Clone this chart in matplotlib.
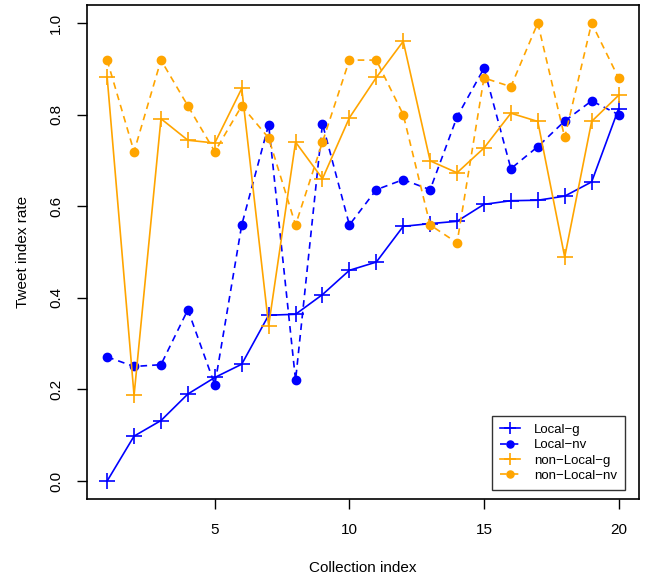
import matplotlib.pyplot as plt
import numpy as np

plt.rcParams['font.family'] = ['Liberation Sans', 'DejaVu Sans']

collection = np.arange(1, 21)

local_g = [0.0, 0.098, 0.132, 0.19, 0.226, 0.255, 0.362, 0.364, 0.407, 0.46,
           0.478, 0.556, 0.562, 0.567, 0.604, 0.612, 0.613, 0.622, 0.653, 0.8125]
local_nv = [0.271, 0.25, 0.254, 0.374, 0.21, 0.559, 0.778, 0.22, 0.78, 0.559,
            0.636, 0.658, 0.636, 0.795, 0.901, 0.682, 0.73, 0.786, 0.83, 0.8]
nonlocal_g = [0.882, 0.187, 0.791, 0.744, 0.738, 0.857, 0.339, 0.74, 0.66, 0.793,
              0.881, 0.96, 0.699, 0.673, 0.727, 0.803, 0.785, 0.489, 0.785, 0.842]
nonlocal_nv = [0.919, 0.719, 0.919, 0.819, 0.719, 0.819, 0.749, 0.559, 0.74, 0.919,
               0.919, 0.8, 0.559, 0.52, 0.88, 0.861, 1.0, 0.75, 1.0, 0.88]

blue = '#0000FF'
orange = '#FFA500'

fig = plt.figure(figsize=(6.45, 5.84), dpi=100)
ax = fig.add_axes([0.1344, 0.145, 0.8563, 0.847])

# series
ax.plot(collection, local_g, color=blue, ls='-', lw=1.2, marker='+', ms=11, mew=1.2, label='Local\u2212g')
ax.plot(collection, local_nv, color=blue, ls=(0, (4, 3)), lw=1.2, marker='o', ms=6, label='Local\u2212nv')
ax.plot(collection, nonlocal_g, color=orange, ls='-', lw=1.2, marker='+', ms=11, mew=1.2, label='non\u2212Local\u2212g')
ax.plot(collection, nonlocal_nv, color=orange, ls=(0, (4, 3)), lw=1.2, marker='o', ms=6, label='non\u2212Local\u2212nv')

# R style limits (4% padding)
ax.set_xlim(1 - 0.04 * 19, 20 + 0.04 * 19)
ax.set_ylim(-0.04, 1.04)
ax.set_xticks([5, 10, 15, 20])
ax.set_yticks([0.0, 0.2, 0.4, 0.6, 0.8, 1.0])
ax.set_yticklabels(['0.0', '0.2', '0.4', '0.6', '0.8', '1.0'], rotation=90, va='center')
ax.tick_params(direction='out', length=7, width=1, labelsize=11, pad=10)
for s in ax.spines.values():
    s.set_linewidth(1.2)

ax.set_xlabel('Collection index', fontsize=11, labelpad=17)
ax.set_ylabel('Tweet index rate', fontsize=11, labelpad=14)

leg = ax.legend(loc='lower right', bbox_to_anchor=(0.975, 0.019), borderaxespad=0,
                fontsize=9.5, frameon=True, fancybox=False, handlelength=1.5,
                borderpad=0.6, labelspacing=0.24, handletextpad=1.1, markerscale=0.85)
leg.get_frame().set_edgecolor('black')
leg.get_frame().set_linewidth(1.0)

fig.savefig('out.png', dpi=100)
